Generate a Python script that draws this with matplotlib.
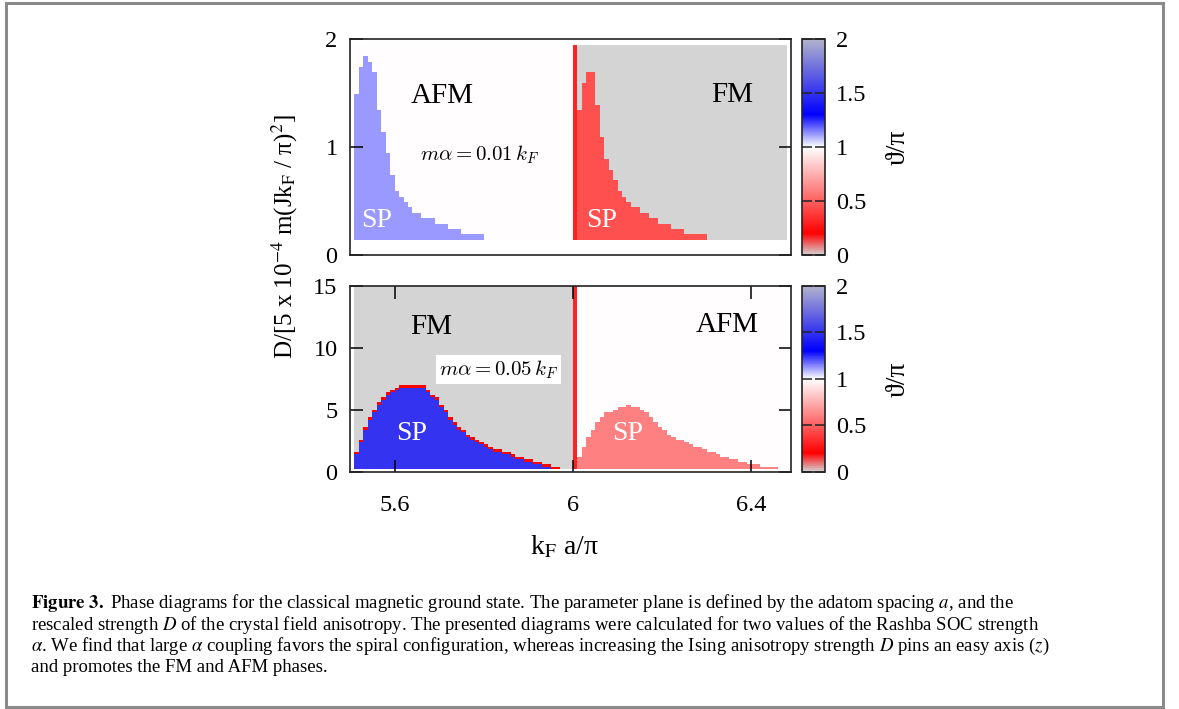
import numpy as np
import matplotlib
matplotlib.use("Agg")
import matplotlib.pyplot as plt
from matplotlib.colors import LinearSegmentedColormap
from matplotlib.patches import Rectangle

plt.rcParams['font.family'] = ['Liberation Serif', 'DejaVu Serif']
plt.rcParams['mathtext.fontset'] = 'stix'

# column grid in k_F a/pi, 0.01 wide (data starts at 5.51)
col_edges = np.round(np.arange(5.51, 6.4801, 0.01), 2)
col_left = col_edges[:-1]
wall_theta = 0.3          # theta/pi of the column at k_F a/pi = 6

# top panel: m alpha = 0.01 k_F
top_d_edges = np.round(np.arange(0.14, 1.9401, 0.05), 2)
top_bg = (0.995, 0.0)     # AFM left of 6, FM right of 6
top_sp_left_start = 5.51
top_sp_left = [1.50, 1.76, 1.84, 1.80, 1.67, 1.34, 1.16, 0.94, 0.76, 0.60,
               0.52, 0.47, 0.43, 0.40, 0.38, 0.36, 0.34, 0.32, 0.30, 0.28,
               0.27, 0.25, 0.24, 0.22, 0.20, 0.19, 0.19, 0.18, 0.18]
top_sp_left_theta = 1.12
top_sp_right_start = 6.01
top_sp_right = [1.33, 1.59, 1.70, 1.69, 1.41, 1.11, 0.91, 0.79, 0.67, 0.59,
                0.53, 0.49, 0.46, 0.43, 0.40, 0.37, 0.34, 0.32, 0.30, 0.29,
                0.27, 0.25, 0.24, 0.22, 0.21, 0.20, 0.19, 0.19, 0.19]
top_sp_right_theta = 0.45

# bottom panel: m alpha = 0.05 k_F
bot_d_edges = np.round(np.arange(0.2, 15.001, 0.2), 2)
bot_bg = (0.0, 0.995)     # FM left of 6, AFM right of 6
bot_sp_left_start = 5.51
bot_sp_left = [1.5, 2.5, 3.4, 4.2, 4.8, 5.4, 5.8, 6.2, 6.4, 6.6,
               6.8, 6.9, 6.9, 6.9, 6.8, 6.7, 6.5, 6.1, 5.7, 5.3,
               4.8, 4.3, 3.9, 3.5, 3.2, 2.9, 2.6, 2.4, 2.2, 2.0,
               1.85, 1.7, 1.55, 1.4, 1.3, 1.2, 1.1, 1.0, 0.9, 0.75,
               0.65, 0.55, 0.45, 0.4, 0.1, 0.1]
bot_sp_left_theta = 1.5
bot_edge_theta = 0.2
bot_sp_right_start = 6.01
bot_sp_right = [1.2, 2.0, 2.8, 3.5, 4.0, 4.4, 4.7, 4.9, 5.1, 5.2,
                5.3, 5.35, 5.3, 5.2, 5.0, 4.7, 4.4, 4.0, 3.7, 3.4,
                3.1, 2.9, 2.7, 2.55, 2.4, 2.25, 2.1, 2.0, 1.85, 1.7,
                1.55, 1.4, 1.25, 1.15, 1.05, 0.95, 0.85, 0.75, 0.65, 0.6,
                0.55, 0.5, 0.45, 0.4, 0.35, 0.3]
bot_sp_right_theta = 0.6

cb_ticks = [0, 0.5, 1, 1.5, 2]
cb_tick_labels = ['0', '0.5', '1', '1.5', '2']

caption_lines = [
    r"$\mathbf{Figure\ 3.}$ Phase diagrams for the classical magnetic ground state. The parameter plane is defined by the adatom spacing $a$, and the",
    r"rescaled strength $D$ of the crystal field anisotropy. The presented diagrams were calculated for two values of the Rashba SOC strength",
    r"$\alpha$. We find that large $\alpha$ coupling favors the spiral configuration, whereas increasing the Ising anisotropy strength $D$ pins an easy axis ($z$)",
    r"and promotes the FM and AFM phases.",
]

cmap = LinearSegmentedColormap.from_list(
    "phase", [(0.0, (0.83, 0.83, 0.83)), (0.1, (1.0, 0.0, 0.0)),
              (0.5, (1.0, 1.0, 1.0)), (0.65, (0.0, 0.0, 1.0)),
              (1.0, (0.70, 0.70, 0.80))], N=1024)


def build_theta(d_edges, bg, sp_sets):
    d_mid = 0.5 * (d_edges[:-1] + d_edges[1:])
    theta = np.where(col_left[None, :] < 6.0, bg[0], bg[1]) * np.ones((len(d_mid), 1))
    theta[:, np.isclose(col_left, 6.0)] = wall_theta
    for start, heights, val, edge in sp_sets:
        i0 = int(round((start - col_edges[0]) / 0.01))
        for k, h in enumerate(heights):
            filled = d_mid < h
            theta[filled, i0 + k] = val
            if edge is not None:
                theta[filled.sum(), i0 + k] = edge
    return theta


W, H = 1179, 709
fig = plt.figure(figsize=(W / 100, H / 100), dpi=100)


def fbox(x0, y0, x1, y1):
    return [x0 / W, 1 - y1 / H, (x1 - x0) / W, (y1 - y0) / H]


ax_top = fig.add_axes(fbox(350, 39, 791, 255))
ax_bot = fig.add_axes(fbox(350, 286, 791, 471.7))
cax_top = fig.add_axes(fbox(801.7, 39, 825, 255))
cax_bot = fig.add_axes(fbox(801.7, 286, 825, 471.7))

theta_top = build_theta(top_d_edges, top_bg,
                        [(top_sp_left_start, top_sp_left, top_sp_left_theta, None),
                         (top_sp_right_start, top_sp_right, top_sp_right_theta, None)])
theta_bot = build_theta(bot_d_edges, bot_bg,
                        [(bot_sp_left_start, bot_sp_left, bot_sp_left_theta, bot_edge_theta),
                         (bot_sp_right_start, bot_sp_right, bot_sp_right_theta, None)])

m1 = ax_top.pcolormesh(col_edges, top_d_edges, theta_top, cmap=cmap, vmin=0, vmax=2,
                       shading='flat', antialiased=False)
m2 = ax_bot.pcolormesh(col_edges, bot_d_edges, theta_bot, cmap=cmap, vmin=0, vmax=2,
                       shading='flat', antialiased=False)

ax_top.set_xlim(5.5, 6.489)
ax_top.set_ylim(0, 2)
ax_top.set_yticks([0, 1, 2])
ax_top.set_yticklabels(['0', '1', '2'])
ax_top.set_xticks([])
ax_bot.set_xlim(5.5, 6.489)
ax_bot.set_ylim(0, 15)
ax_bot.set_yticks([0, 5, 10, 15])
ax_bot.set_xticks([5.6, 6.0, 6.4])
ax_bot.set_xticklabels(['5.6', '6', '6.4'])

for ax in (ax_top, ax_bot):
    for s in ax.spines.values():
        s.set_linewidth(1.2)
        s.set_color('#222222')
    ax.tick_params(axis='y', direction='in', left=True, right=True, length=9,
                   width=1.1, labelsize=17.5, pad=9)
    ax.tick_params(axis='x', direction='in', top=True, bottom=True, length=9,
                   width=1.1, labelsize=17.5, pad=17)

for cax, mesh in ((cax_top, m1), (cax_bot, m2)):
    cb = fig.colorbar(mesh, cax=cax)
    cb.set_ticks(cb_ticks)
    cb.set_ticklabels(cb_tick_labels)
    cb.outline.set_linewidth(1.2)
    cb.outline.set_edgecolor('#222222')
    cax.tick_params(direction='in', left=True, right=True, length=7, width=1.1,
                    labelsize=17.5, pad=8, colors='#222222', labelcolor='black')
    cb.set_label('ϑ/π', fontsize=20, labelpad=14)

# phase labels
ax_top.text(5.706, 1.47, 'AFM', fontsize=21, ha='center', va='center')
ax_top.text(6.356, 1.48, 'FM', fontsize=21, ha='center', va='center')
ax_top.text(5.56, 0.32, 'SP', fontsize=20, color='white', ha='center', va='center')
ax_top.text(6.065, 0.32, 'SP', fontsize=20, color='white', ha='center', va='center')
ax_top.text(5.79, 0.93, r'$m\alpha = 0.01\,k_F$', fontsize=15, ha='center', va='center',
            math_fontfamily='cm')

ax_bot.text(5.683, 11.7, 'FM', fontsize=21, ha='center', va='center')
ax_bot.text(6.345, 11.85, 'AFM', fontsize=21, ha='center', va='center')
ax_bot.text(5.638, 3.1, 'SP', fontsize=20, color='white', ha='center', va='center')
ax_bot.text(6.122, 3.1, 'SP', fontsize=20, color='white', ha='center', va='center')
ax_bot.text(5.833, 8.27, r'$m\alpha = 0.05\,k_F$', fontsize=15, ha='center', va='center',
            math_fontfamily='cm',
            bbox=dict(facecolor='white', edgecolor='none', pad=2.5))

# shared axis labels
fig.text(285 / W, 1 - 237 / H, r"D/[5 x 10$^{-4}$ m(Jk$_{\mathrm{F}}$ / π)$^{2}$]",
         rotation=90, fontsize=18, ha='center', va='center')
fig.text(564 / W, 1 - 547 / H, r"k$_{\mathrm{F}}$ a/π", fontsize=20,
         ha='center', va='center')

# caption
for k, line in enumerate(caption_lines):
    fig.text(31 / W, 1 - (603 + 21.5 * k) / H, line, fontsize=13.5,
             ha='left', va='center')

# outer frame
fig.add_artist(Rectangle((6 / W, 1 - 707 / H), 1157 / W, 704 / H,
                         transform=fig.transFigure, fill=False,
                         edgecolor='#8a8a8a', linewidth=2.2))

fig.savefig('out.png', dpi=100)
